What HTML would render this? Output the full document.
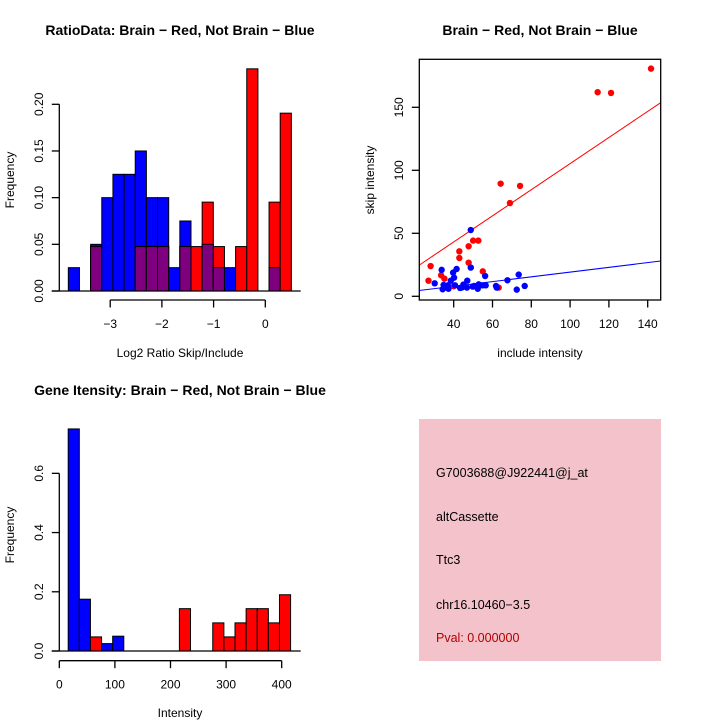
<!DOCTYPE html>
<html><head><meta charset="utf-8"><style>
body{margin:0;background:#fff}
svg{display:block;font-family:"Liberation Sans",sans-serif}
</style></head><body>
<svg id="c" width="720" height="720" viewBox="0 0 720 720" xmlns="http://www.w3.org/2000/svg">
<rect width="720" height="720" fill="#fff"/>
<g id="p1"></g>
<g id="p2"></g>
<g id="p3"></g>
<g id="p4">
<rect x="419" y="419" width="242" height="242" fill="#f4c2ca"/>
<text x="436" y="477" font-size="12.5">G7003688@J922441@j_at</text>
<text x="436" y="521" font-size="12.5">altCassette</text>
<text x="436" y="564" font-size="12.5">Ttc3</text>
<text x="436" y="609" font-size="12.5">chr16.10460−3.5</text>
<text x="436" y="642" font-size="12.5" fill="#b00000">Pval: 0.000000</text>
</g>
</svg>
<script>
// Plot 1 data
const ratioBinStart=-3.81, ratioBinWidth=0.2157;
const ratioBlue=[0.025,0,0.05,0.10,0.125,0.125,0.15,0.10,0.10,0.025,0.075,0,0.05,0.025,0.025,0,0,0,0.025,0];
const ratioRed=[0,0,0.0476,0,0,0,0.0476,0.0476,0.0476,0,0.0476,0.0476,0.0952,0.0476,0,0.0476,0.238,0,0.0952,0.1905];
const ratioYTicks=[0,0.05,0.10,0.15,0.20];
const ratioYLabels=["0.00","0.05","0.10","0.15","0.20"];
const ratioXTicks=[-3,-2,-1,0];
const ratioXLabels=["−3","−2","−1","0"];
// Plot 2 data
const redX=[27,28.1,33.5,35.2,40,42.9,42.9,47.7,47.7,50,52.7,55,63.2,64.2,69,74.2,114.2,121.1,141.7];
const redY=[12.4,24,16.7,14,8,35.7,30.4,39.7,26.7,44.2,44.2,19.8,6.9,89.4,74,87.6,162,161.4,180.7];
const blueX=[33.8,30.2,34.3,36,37.3,38.5,39.7,40.2,41.5,40.7,43.3,45,47,48.8,48.8,49.8,52.4,52.9,54.8,56.2,56.5,61.8,67.7,72.5,73.5,76.6,34.8,37,44.2,46.8,50.5,62.2];
const blueY=[21,10.3,5.6,7,6,12.4,18.8,14.8,21.7,8.7,6.6,9.3,12.4,52.6,22.8,7.7,6,9.5,8.7,16.1,8.7,8.2,12.7,5.3,17.2,8.2,9,8.7,7,6.9,8.2,6.9];
const redFit=[1.7,1.036];
const blueFit=[0.4,0.188];
const scXTicks=[40,60,80,100,120,140];
const scYTicks=[0,50,100,150];
// Plot 3 data
const geneBinStart=16, geneBinWidth=20;
const geneBlue=[0.75,0.175,0,0.025,0.05,0,0,0,0,0,0,0,0,0,0,0,0,0,0,0];
const geneRed=[0,0,0.0476,0,0,0,0,0,0,0,0.143,0,0,0.095,0.0476,0.095,0.143,0.143,0.095,0.19];
const geneYTicks=[0,0.2,0.4,0.6];
const geneYLabels=["0.0","0.2","0.4","0.6"];
const geneXTicks=[0,100,200,300,400];

const NS="http://www.w3.org/2000/svg";
function mk(par,tag,attrs,txt){const e=document.createElementNS(NS,tag);for(const k in attrs)e.setAttribute(k,attrs[k]);if(txt!==undefined)e.textContent=txt;par.appendChild(e);return e;}

function histo(g,o){
  const {xs,ys,bs,bw,blue,red,yt,yl,xt,xl,axisY,axisX0,axisX1,yAxX,title,titleY,xlab,xlabY,ylabY}=o;
  for(let i=0;i<blue.length;i++){
    const x0=xs(bs+i*bw),x1=xs(bs+(i+1)*bw);
    const b=blue[i],r=red[i],m=Math.min(b,r);
    if(b>0){const e=mk(g,'rect',{x:x0,y:ys(b),width:x1-x0,height:ys(0)-ys(b),fill:'#0000ff',stroke:'#000','stroke-width':1});
      
      }
    if(r>0){const e=mk(g,'rect',{x:x0,y:ys(r),width:x1-x0,height:ys(0)-ys(r),fill:'#ff0000',stroke:'#000','stroke-width':1});
      
      }
    if(m>0){const e=mk(g,'rect',{x:x0,y:ys(m),width:x1-x0,height:ys(0)-ys(m),fill:'#7f007f',stroke:'#000','stroke-width':1});
      
      }
  }
  mk(g,'line',{x1:51.7,x2:300.7,y1:ys(0),y2:ys(0),stroke:'#000','stroke-width':1.3});
  // y axis
  const ya=mk(g,'g',{});
  
  
  mk(ya,'line',{x1:yAxX,x2:yAxX,y1:ys(yt[0]),y2:ys(yt[yt.length-1]),stroke:'#000','stroke-width':1.3});
  yt.forEach((v,i)=>{mk(ya,'line',{x1:yAxX-7.5,x2:yAxX,y1:ys(v),y2:ys(v),stroke:'#000','stroke-width':1.3});
    const t=mk(ya,'text',{x:0,y:0,transform:`translate(43,${ys(v)}) rotate(-90)`,'text-anchor':'middle','font-size':12},yl[i]);
    
    });
  // x axis
  const xa=mk(g,'g',{});
  
  
  mk(xa,'line',{x1:xs(xt[0]),x2:xs(xt[xt.length-1]),y1:axisY,y2:axisY,stroke:'#000','stroke-width':1.3});
  xt.forEach((v,i)=>{mk(xa,'line',{x1:xs(v),x2:xs(v),y1:axisY,y2:axisY+7.5,stroke:'#000','stroke-width':1.3});
    const t=mk(xa,'text',{x:xs(v),y:axisY+28,'text-anchor':'middle','font-size':12},xl[i]);
    
    });
  const tt=mk(g,'text',{x:180,y:titleY,'text-anchor':'middle','font-size':14,'font-weight':'bold'},title);
  
  
  const xt2=mk(g,'text',{x:180,y:xlabY,'text-anchor':'middle','font-size':12},xlab);
  
  
  const yt2=mk(g,'text',{x:0,y:0,transform:`translate(14,${ylabY}) rotate(-90)`,'text-anchor':'middle','font-size':12},'Frequency');
  
  
}

histo(document.getElementById('p1'),{
  xs:v=>265.3+v*51.7, ys:v=>291-v*933.5, bs:ratioBinStart,bw:ratioBinWidth,blue:ratioBlue,red:ratioRed,
  yt:ratioYTicks,yl:ratioYLabels,xt:ratioXTicks,xl:ratioXLabels,axisY:300,yAxX:59.3,
  title:'RatioData: Brain − Red, Not Brain − Blue',titleY:35,xlab:'Log2 Ratio Skip/Include',xlabY:357,ylabY:180});

histo(document.getElementById('p3'),{
  xs:v=>59.3+v*0.556, ys:v=>651-v*296.1, bs:geneBinStart,bw:geneBinWidth,blue:geneBlue,red:geneRed,
  yt:geneYTicks,yl:geneYLabels,xt:geneXTicks,xl:geneXTicks.map(String),axisY:660.7,yAxX:59.3,
  title:'Gene Itensity: Brain − Red, Not Brain − Blue',titleY:395,xlab:'Intensity',xlabY:717,ylabY:535});

// scatter
(function(){
  const g=document.getElementById('p2');
  const xs=v=>453.7+(v-40)*1.94, ys=v=>296.3-v*1.26;
  const L=419.3,R=660.7,T=59.3,B=300;
  const cp=mk(g,'clipPath',{id:'cl'});mk(cp,'rect',{x:L,y:T,width:R-L,height:B-T});
  [[redFit,'#ff0000','red-fit-line'],[blueFit,'#0000ff','blue-fit-line']].forEach(([f,c,n])=>{
    const xa=21.8,xb=146.7;
    const l=mk(g,'line',{x1:xs(xa),y1:ys(f[0]+f[1]*xa),x2:xs(xb),y2:ys(f[0]+f[1]*xb),stroke:c,'stroke-width':1,'clip-path':'url(#cl)'});
    
    
  });
  redX.forEach((x,i)=>{const p=mk(g,'circle',{cx:xs(x),cy:ys(redY[i]),r:3.2,fill:'#ff0000'});
    
    });
  blueX.forEach((x,i)=>{const p=mk(g,'circle',{cx:xs(x),cy:ys(blueY[i]),r:3.2,fill:'#0000ff'});
    
    });
  const bx=mk(g,'rect',{x:L,y:T,width:R-L,height:B-T,fill:'none',stroke:'#000','stroke-width':1.3});
  
  
  scXTicks.forEach(v=>{mk(g,'line',{x1:xs(v),x2:xs(v),y1:B,y2:B+7.5,stroke:'#000','stroke-width':1.3});
    const t=mk(g,'text',{x:xs(v),y:B+28,'text-anchor':'middle','font-size':12},String(v));
    
    });
  scYTicks.forEach(v=>{mk(g,'line',{x1:L-7.5,x2:L,y1:ys(v),y2:ys(v),stroke:'#000','stroke-width':1.3});
    const t=mk(g,'text',{x:0,y:0,transform:`translate(403,${ys(v)}) rotate(-90)`,'text-anchor':'middle','font-size':12},String(v));
    
    });
  const tt=mk(g,'text',{x:540,y:35,'text-anchor':'middle','font-size':14,'font-weight':'bold'},'Brain − Red, Not Brain − Blue');
  
  
  const xl=mk(g,'text',{x:540,y:357,'text-anchor':'middle','font-size':12},'include intensity');
  
  
  const yl=mk(g,'text',{x:0,y:0,transform:'translate(374,180) rotate(-90)','text-anchor':'middle','font-size':12},'skip intensity');
  
  
})();
</script>
</body></html>
